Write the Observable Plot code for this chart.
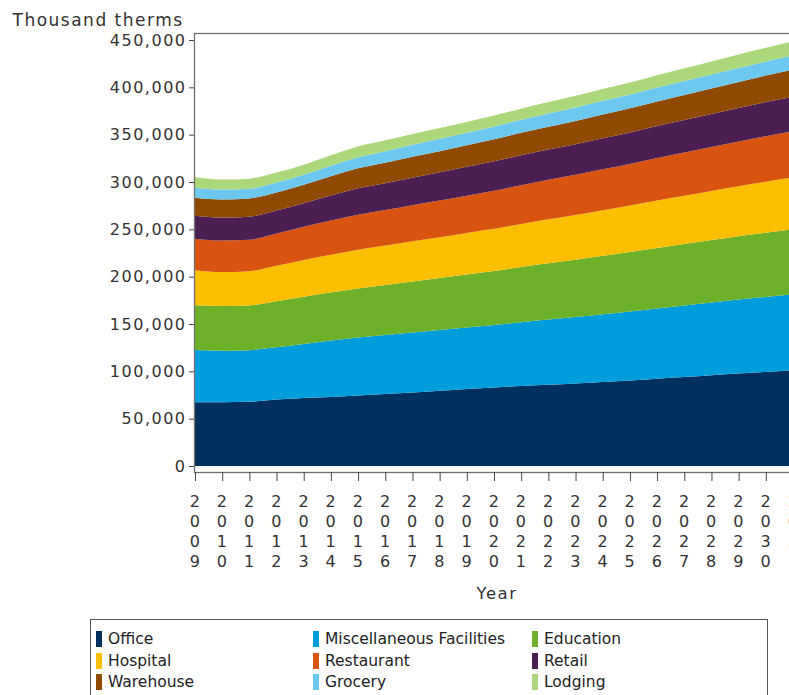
<!DOCTYPE html>
<html>
<head>
<meta charset="utf-8">
<script src="https://cdn.jsdelivr.net/npm/d3@7"></script>
<script src="https://cdn.jsdelivr.net/npm/@observablehq/plot@0.6"></script>
<style>
  html, body { margin: 0; padding: 0; background: #fff; overflow: hidden; }
  #wrap { position: relative; width: 789px; height: 695px; overflow: hidden; }
  #chart { position: absolute; left: 0; top: 0; width: 830px; }
  #chart svg { max-width: none !important; width: 830px; height: 610px; }
  #legend { position: absolute; left: 90px; top: 619px; width: 676px; height: 100px;
            border: 1px solid #555; font-family: "DejaVu Sans", sans-serif; font-size: 15.5px; color: #222; }
  .item { position: absolute; height: 20px; line-height: 20px; white-space: nowrap; }
  .sw { position: absolute; left: 0; top: 2px; width: 6px; height: 16px; }
  .lab { position: absolute; left: 12px; top: 0; }
</style>
</head>
<body>
<div id="wrap">
  <div id="chart"></div>
  <div id="legend"></div>
</div>
<script>
const years = [2009,2010,2011,2012,2013,2014,2015,2016,2017,2018,2019,2020,2021,2022,2023,2024,2025,2026,2027,2028,2029,2030,2031];
const categories = ["Office","Miscellaneous Facilities","Education","Hospital","Restaurant","Retail","Warehouse","Grocery","Lodging"];
const colors = ["#00305E","#009DDC","#6DB02A","#FBBF00","#D95311","#4C1F54","#8F4A00","#6DC8F0","#ADD77B"];

const office     = [67300,67300,67800,70200,71800,72900,74500,76100,77600,79400,81300,82900,84500,85800,87100,88700,90300,92200,94000,95900,97700,99400,101000];
const misc       = [55200,54400,54600,55200,57000,59700,61300,62300,63400,64200,65100,66000,67400,68900,70200,71600,72900,74300,75500,76800,78100,79200,80300];
const education  = [47200,47200,47200,48600,50000,50700,51800,52800,53900,54900,56000,57000,58200,59400,60500,61700,62900,63900,65000,66000,67000,67900,68900];
const hospital   = [37000,35900,36200,37500,38800,39900,40900,41600,42400,43100,43800,44700,45500,46500,47300,48200,49100,50100,51000,51900,52800,53800,54600];
const restaurant = [33400,33300,33100,34000,35100,36100,36900,37500,38100,38800,39400,40100,41000,41700,42500,43200,43900,44800,45600,46400,47200,48000,48700];
const retail     = [24300,24300,24500,24300,24900,26400,27900,28500,29200,29800,30400,31200,31600,32000,32400,32900,33300,33800,34400,34900,35500,36100,36700];
const warehouse  = [19000,19200,19300,19200,19500,20400,21100,21500,22000,22400,22800,23200,23700,24100,24500,24900,25400,25900,26400,26900,27400,28000,28600];
const grocery    = [10600,10400,10200,10400,10600,11100,11800,12300,12700,13000,13300,13600,13800,14000,14300,14500,14600,14700,14800,14800,14800,14800,14900];
const lodging    = [11100,10600,10600,10600,10600,11100,11400,11400,11400,11400,11400,11600,11800,12000,12300,12600,12800,13100,13500,13800,14100,14500,14800];

const yTicks = [0,50000,100000,150000,200000,250000,300000,350000,400000,450000];

const seriesValues = [office, misc, education, hospital, restaurant, retail, warehouse, grocery, lodging];
const data = [];
categories.forEach((c, i) => {
  years.forEach((yr, j) => data.push({year: yr, category: c, value: seriesValues[i][j]}));
});

const chart = Plot.plot({
  width: 830,
  height: 610,
  marginLeft: 194,
  marginRight: 31,
  marginTop: 33,
  marginBottom: 138,
  style: {fontFamily: "DejaVu Sans, sans-serif", fontSize: "16px", color: "#333", letterSpacing: "1.5px", background: "#fff", overflow: "visible", maxWidth: "none"},
  x: {domain: [2009, 2031], insetLeft: 1, insetRight: 6},
  y: {domain: [0, 450000], insetTop: 7, insetBottom: 6},
  color: {domain: categories, range: colors},
  marks: [
    Plot.areaY(data, {x: "year", y: "value", fill: "category", curve: "monotone-x"}),
    Plot.frame({stroke: "#707070", strokeWidth: 1.3}),
    Plot.axisY({ticks: yTicks, tickFormat: d3.format(","), tickSize: 5, tickPadding: 3, label: null, stroke: "#444"}),
    Plot.axisX({ticks: years, tickFormat: d => String(d).split("").join("\n"), tickSize: 9, tickPadding: 11, lineHeight: 1.25, label: null, stroke: "#444"}),
    Plot.text(["Thousand therms"], {text: d => d, frameAnchor: "top-left", textAnchor: "start", dx: -182, dy: -19.5, fontSize: 17}),
    Plot.text(["Year"], {text: d => d, frameAnchor: "bottom", dy: 126, fontSize: 16.5})
  ]
});
chart.style.maxWidth = "none";
document.getElementById("chart").appendChild(chart);

const legend = document.getElementById("legend");
const colX = [5, 222, 441];
const rowY = [9, 31, 52];
categories.forEach((c, i) => {
  const it = document.createElement("div");
  it.className = "item";
  it.style.left = colX[i % 3] + "px";
  it.style.top = rowY[Math.floor(i / 3)] + "px";
  const sw = document.createElement("span");
  sw.className = "sw";
  sw.style.background = colors[i];
  const lab = document.createElement("span");
  lab.className = "lab";
  lab.textContent = c;
  it.appendChild(sw);
  it.appendChild(lab);
  legend.appendChild(it);
});
</script>
</body>
</html>
